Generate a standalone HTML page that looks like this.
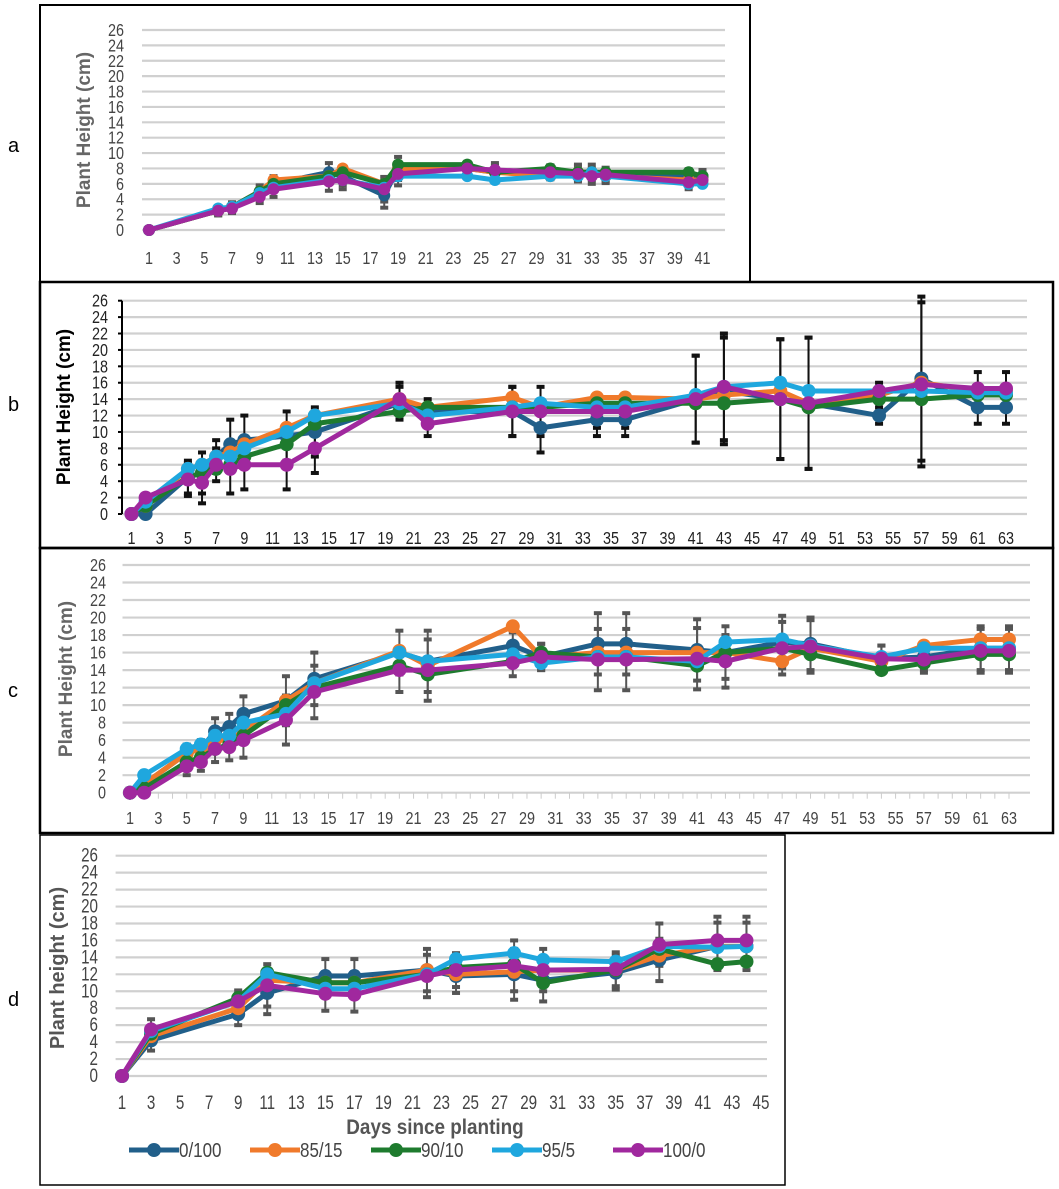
<!DOCTYPE html>
<html><head><meta charset="utf-8"><style>
body{margin:0;background:#fff}
svg{display:block;font-family:"Liberation Sans",sans-serif}
</style></head><body>
<svg id="fig" width="1059" height="1189" viewBox="0 0 1059 1189" xmlns="http://www.w3.org/2000/svg">
<rect x="0" y="0" width="1059" height="1189" fill="#fff"/>
<rect x="40" y="5" width="710" height="277" fill="none" stroke="#000" stroke-width="2"/>
<rect x="40" y="282" width="1013" height="266" fill="none" stroke="#000" stroke-width="2.5"/>
<rect x="40" y="548" width="1013" height="285" fill="none" stroke="#000" stroke-width="2.5"/>
<rect x="40" y="835" width="745" height="350" fill="none" stroke="#000" stroke-width="1.5"/>
<text x="8" y="152" font-size="20">a</text>
<text x="8" y="411" font-size="20">b</text>
<text x="8" y="697" font-size="20">c</text>
<text x="8" y="1006" font-size="20">d</text>
<g id="charts"></g>
</svg>
<script>
const seriesNames = ['0/100','85/15','90/10','95/5','100/0'];
const yTicks = [0,2,4,6,8,10,12,14,16,18,20,22,24,26];

const aDays = [1,6,7,9,10,14,15,18,19,24,26,30,32,33,34,40,41];
const a_0_100 = [0,2.5,3,5,6,7.5,7,4.5,8,8,7.5,7.5,7.5,7.5,7,7,7];
const a_85_15 = [0,2.5,3,5,6.5,7,8,6,8,8,7.5,7,7.5,7.5,7,6.5,6.5];
const a_90_10 = [0,2.5,3,5,6,7,7.5,6,8.5,8.5,7.5,8,7.5,7.5,7.5,7.5,7];
const a_95_5 = [0,2.8,3,4.8,5.5,6.5,6.5,5.5,7,7,6.5,7,7,7.5,7,6,6];
const a_100_0 = [0,2.5,2.8,4.3,5.3,6.3,6.5,5.3,7.3,8,7.8,7.5,7.3,7,7.2,6.2,6.5];
const aErr = [0,0.6,0.6,0.8,1,1.2,1.2,1.6,1.5,0.8,0.9,0.9,1,1,0.9,0.9,0.8];
const aXLabels = [1,3,5,7,9,11,13,15,17,19,21,23,25,27,29,31,33,35,37,39,41];

const bDays = [1,2,5,6,7,8,9,12,14,20,22,28,30,34,36,41,43,47,49,54,57,61,63];
const b_0_100 = [0,0,4.5,5,7,8.5,9,9.5,10,13.5,12.5,12.5,10.5,11.5,11.5,14,15,14,13.5,12,16.5,13,13];
const b_85_15 = [0,1,5.5,6,7,7.5,8.5,10.5,12,14,13,14.2,13,14.2,14.2,14,14.5,15,13.5,14.5,16,15,15];
const b_90_10 = [0,1,4.5,5,5.5,6,7,8.5,11,12.5,13,13,13,13.5,13.5,13.5,13.5,14,13,14,14,14.5,14.5];
const b_95_5 = [0,1.5,5.5,6,7,7,8,10,12,13.5,12,13,13.5,13,13,14.5,15.5,16,15,15,15,14.8,14.8];
const b_100_0 = [0,2,4.2,3.8,6,5.5,6,6,8,14,11,12.5,12.5,12.5,12.5,14,15.5,14,13.5,15,15.8,15.3,15.3];
const bErr = [0,0,2,2.5,2,3,3,3,3,2,1.5,3,3,2,2,5.3,6.5,7.3,8,1,10,2,2];
const bXLabels = [1,3,5,7,9,11,13,15,17,19,21,23,25,27,29,31,33,35,37,39,41,43,45,47,49,51,53,55,57,59,61,63];

const cDays = [1,2,5,6,7,8,9,12,14,20,22,28,30,34,36,41,43,47,49,54,57,61,63];
const c_0_100 = [0,1,4.5,5,7,7.5,9,10.5,13,16,15,16.8,15.5,17,17,16.3,16,17.2,17,15.3,15.5,16.5,16.5];
const c_85_15 = [0,1,4.5,5,6,6,7,10.5,12.5,16.2,14.5,19,15.5,16,16,16,16,15,16.5,15,16.8,17.5,17.5];
const c_90_10 = [0,0.5,3.5,4,5,5.5,6.5,10,12,14.5,13.5,15,16,15.5,15.5,14.5,16,16.5,15.8,14,14.8,15.8,15.8];
const c_95_5 = [0,2,5,5.5,6.5,6.5,8,9,12.5,16,15,15.8,14.8,15.5,15.5,15,17.2,17.5,16.8,15.5,16.5,16.5,16.5];
const c_100_0 = [0,0,3,3.5,5,5.2,6,8.3,11.5,14,14,14.8,15.5,15.2,15.2,15.3,15,16.5,16.7,15.3,15.2,16.2,16.2];
const cErr = [0,0,1,1,1.5,1.5,2,2.8,3,2.5,3.5,1.5,1.5,3.5,3.5,3.5,3,3,3,1.5,1.5,2.5,2.5];
const cXLabels = bXLabels;

const dDays = [1,3,9,11,15,17,22,24,28,30,35,38,42,44];
const d_0_100 = [0,4.2,7.3,9.8,11.8,11.8,12.5,11.8,12,11.3,12.2,13.7,15.3,15.3];
const d_85_15 = [0,4.7,8,11.3,11,11,12.5,12,12.3,12.5,12.5,14.2,15.3,15.3];
const d_90_10 = [0,5,9.2,12.2,11,11,12,12.8,13.2,11,12.5,15,13.2,13.5];
const d_95_5 = [0,5.3,8.8,12,10.3,10.3,12,13.8,14.5,13.7,13.5,15.3,15.2,15.3];
const d_100_0 = [0,5.5,8.8,10.7,9.7,9.6,11.8,12.5,13,12.5,12.6,15.5,16,16];
const dErr = [0,1.2,1.3,2.5,2,2,2.5,2,3,2.5,2,2.5,2.8,2.8];
const dXLabels = [1,3,5,7,9,11,13,15,17,19,21,23,25,27,29,31,33,35,37,39,41,43,45];

const colors = ['#215f8a','#f07a2b','#1e7b2e','#1fa7de','#a0289e'];
const NS = 'http://www.w3.org/2000/svg';
const root = document.getElementById('charts');
function mk(tag, attrs, parent){const e=document.createElementNS(NS,tag);for(const k in attrs)e.setAttribute(k,attrs[k]);(parent||root).appendChild(e);return e;}

function panel(cfg){
  const g = mk('g',{});
  
  
  const xs = d => cfg.x0 + (d - cfg.d0) * (cfg.x1 - cfg.x0) / (cfg.d1 - cfg.d0);
  const ys = v => cfg.y0 + (v) * (cfg.y26 - cfg.y0) / 26;
  yTicks.forEach(t=>{
    const l = mk('line',{x1:cfg.gx0,x2:cfg.gx1,y1:ys(t),y2:ys(t),stroke:'#d0d0d0','stroke-width':2.2},g);
    
    
    const tx = mk('text',{x:0,y:0,transform:`translate(${cfg.ylx},${ys(t)+6}) scale(0.8,1)`,'text-anchor':'end','font-size':cfg.fs,fill:cfg.tickColor},g);
    tx.textContent = t;
    
    
  });
  if(cfg.axisBlack){
    const ax = mk('line',{x1:cfg.gx0,x2:cfg.gx0,y1:ys(26),y2:ys(0),stroke:'#000','stroke-width':2},g);
    
    
    yTicks.forEach(t=>{mk('line',{x1:cfg.gx0-4,x2:cfg.gx0,y1:ys(t),y2:ys(t),stroke:'#000','stroke-width':2},g);});
  }
  if(cfg.minor){
    for(let d=cfg.d0; d<=cfg.d1; d++){mk('line',{x1:xs(d),x2:xs(d),y1:ys(0),y2:ys(0)+6,stroke:'#ccc','stroke-width':1},g);}
  }
  cfg.xl.forEach(d=>{
    const tx = mk('text',{x:0,y:0,transform:`translate(${xs(d)},${cfg.xly}) scale(0.8,1)`,'text-anchor':'middle','font-size':cfg.fs,fill:cfg.tickColor},g);
    tx.textContent = d;
    
    
  });
  const yt = mk('text',{x:0,y:0,transform:`translate(${cfg.ytx},${cfg.yty}) rotate(-90)`,'text-anchor':'middle','font-size':cfg.ytfs,'font-weight':'bold',fill:cfg.ytColor},g);
  yt.textContent = cfg.ytitle;
  
  
  cfg.series.forEach((vals,si)=>{
    if(si!==0 && si!==4) return;
    vals.forEach((v,i)=>{
      const e = cfg.err[i]; if(!e) return;
      const x = xs(cfg.days[i]);
      const eb = mk('g',{stroke:cfg.errColor,'stroke-width':2},g);
      
      
      mk('line',{x1:x,x2:x,y1:ys(v+e),y2:ys(v-e)},eb);
      mk('line',{x1:x-4,x2:x+4,y1:ys(v+e),y2:ys(v+e),'stroke-width':4},eb);
      mk('line',{x1:x-4,x2:x+4,y1:ys(v-e),y2:ys(v-e),'stroke-width':4},eb);
    });
  });
  cfg.series.forEach((vals,si)=>{
    const sg = mk('g',{},g);
    
    
    const pts = vals.map((v,i)=>xs(cfg.days[i])+','+ys(v)).join(' ');
    mk('polyline',{points:pts,fill:'none',stroke:colors[si],'stroke-width':cfg.lw,'stroke-linejoin':'round'},sg);
    vals.forEach((v,i)=>{
      const c = mk('circle',{cx:xs(cfg.days[i]),cy:ys(v),r:cfg.r,fill:colors[si]},sg);
      
      
    });
  });
}

panel({id:'a',days:aDays,series:[a_0_100,a_85_15,a_90_10,a_95_5,a_100_0],err:aErr,xl:aXLabels,
  d0:1,d1:41,x0:149,x1:702.5,y0:230,y26:30,gx0:142,gx1:725,ylx:124,xly:264,fs:18,tickColor:'#444',
  ytx:90,yty:130,ytfs:19,ytColor:'#666',ytitle:'Plant Height (cm)',errColor:'#555',lw:5,r:6});
panel({id:'b',days:bDays,series:[b_0_100,b_85_15,b_90_10,b_95_5,b_100_0],err:bErr,xl:bXLabels,
  d0:1,d1:63,x0:131.5,x1:1006,y0:514,y26:300.7,gx0:122,gx1:1027,ylx:108,xly:544,fs:18,tickColor:'#222',
  ytx:70,yty:407,ytfs:19,ytColor:'#000',ytitle:'Plant Height (cm)',errColor:'#111',lw:5,r:7,axisBlack:true});
panel({id:'c',days:cDays,series:[c_0_100,c_85_15,c_90_10,c_95_5,c_100_0],err:cErr,xl:cXLabels,
  d0:1,d1:63,x0:130,x1:1009,y0:792.7,y26:565,gx0:122.5,gx1:1030,ylx:106,xly:824,fs:18,tickColor:'#444',
  ytx:72,yty:679,ytfs:19,ytColor:'#666',ytitle:'Plant Height (cm)',errColor:'#555',lw:5,r:7,minor:true});
panel({id:'d',days:dDays,series:[d_0_100,d_85_15,d_90_10,d_95_5,d_100_0],err:dErr,xl:dXLabels,
  d0:1,d1:45,x0:122,x1:761,y0:1076,y26:855.7,gx0:115.6,gx1:767,ylx:98,xly:1109,fs:19,tickColor:'#444',
  ytx:64,yty:968,ytfs:20,ytColor:'#555',ytitle:'Plant height (cm)',errColor:'#555',lw:5,r:7});

const xt = mk('text',{x:0,y:0,transform:'translate(435,1134) scale(0.9,1)','text-anchor':'middle','font-size':21,'font-weight':'bold',fill:'#555'});
xt.textContent = 'Days since planting';



const legendX = [129,250,371,492,613];
seriesNames.forEach((n,i)=>{
  const lg = mk('g',{});
  
  
  mk('line',{x1:legendX[i],x2:legendX[i]+50,y1:1150,y2:1150,stroke:colors[i],'stroke-width':5},lg);
  mk('circle',{cx:legendX[i]+25,cy:1150,r:7,fill:colors[i]},lg);
  const t = mk('text',{x:0,y:0,transform:`translate(${legendX[i]+50},1157) scale(0.85,1)`,'font-size':20,fill:'#444'},lg);
  t.textContent = n;
});
</script>
</body></html>
